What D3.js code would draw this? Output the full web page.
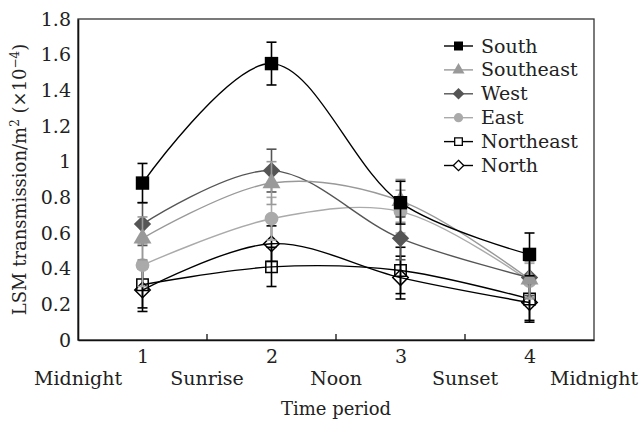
<!DOCTYPE html>
<html>
<head>
<meta charset="utf-8">
<script src="https://cdn.jsdelivr.net/npm/d3@7"></script>
<style>
  body { margin: 0; background: #fff; }
  svg text { font-family: "DejaVu Serif", serif; fill: #222; }
</style>
</head>
<body>
<div id="chart"></div>
<script>
// periods on the x axis
const periods = [1, 2, 3, 4];
const periodLabels = ["Midnight", "Sunrise", "Noon", "Sunset", "Midnight"];
const labelPositions = [0.5, 1.5, 2.5, 3.5, 4.5];
const yTicks = [0, 0.2, 0.4, 0.6, 0.8, 1, 1.2, 1.4, 1.6, 1.8];

// series values (x10^-4) and their error bars
const south = [0.88, 1.55, 0.77, 0.48];
const southErr = [0.11, 0.12, 0.12, 0.12];
const southeast = [0.57, 0.88, 0.78, 0.34];
const southeastErr = [0.12, 0.12, 0.12, 0.1];
const west = [0.65, 0.95, 0.57, 0.35];
const westErr = [0.12, 0.12, 0.12, 0.1];
const east = [0.42, 0.68, 0.72, 0.33];
const eastErr = [0.12, 0.12, 0.12, 0.1];
const northeast = [0.31, 0.41, 0.39, 0.23];
const northeastErr = [0.13, 0.11, 0.13, 0.12];
const north = [0.28, 0.54, 0.35, 0.21];
const northErr = [0.12, 0.1, 0.12, 0.11];

const series = [
  {name: "South", values: south, err: southErr, color: "#000", symbol: "square", fill: true},
  {name: "Southeast", values: southeast, err: southeastErr, color: "#999", symbol: "triangle", fill: true},
  {name: "West", values: west, err: westErr, color: "#555", symbol: "diamond", fill: true},
  {name: "East", values: east, err: eastErr, color: "#aaa", symbol: "circle", fill: true},
  {name: "Northeast", values: northeast, err: northeastErr, color: "#000", symbol: "square", fill: false},
  {name: "North", values: north, err: northErr, color: "#000", symbol: "diamond", fill: false}
];

const width = 640, height = 421;
const margin = {top: 19, right: 46, bottom: 81, left: 78};

const svg = d3.select("#chart").append("svg")
  .attr("width", width)
  .attr("height", height);

const x = d3.scaleLinear().domain([0.5, 4.5]).range([margin.left, width - margin.right]);
const y = d3.scaleLinear().domain([0, 1.8]).range([height - margin.bottom, margin.top]);

// frame
svg.append("rect")
  .attr("x", x(0.5)).attr("y", y(1.8))
  .attr("width", x(4.5) - x(0.5)).attr("height", y(0) - y(1.8))
  .attr("fill", "none").attr("stroke", "#333").attr("stroke-width", 1.3);

// y axis labels
svg.append("g")
  .attr("transform", "translate(" + x(0.5) + ",0)")
  .call(d3.axisLeft(y).tickValues(yTicks).tickSize(0).tickPadding(7).tickFormat(d3.format("~g")))
  .call(g => g.select(".domain").attr("stroke", "#111").attr("stroke-width", 1.6))
  .call(g => g.selectAll("text").attr("font-size", 19).attr("font-family", "DejaVu Serif").attr("fill", "#222"));

// x axis: numbers at periods, inner ticks between
svg.append("g")
  .attr("transform", "translate(0," + y(0) + ")")
  .call(d3.axisBottom(x).tickValues(periods).tickSize(0).tickPadding(10).tickFormat(d3.format("d")))
  .call(g => g.select(".domain").attr("stroke", "#111").attr("stroke-width", 1.6))
  .call(g => g.selectAll("text").attr("font-size", 19).attr("font-family", "DejaVu Serif").attr("fill", "#222"));

svg.append("g")
  .selectAll("line")
  .data([1.5, 2.5, 3.5])
  .join("line")
  .attr("x1", d => x(d)).attr("x2", d => x(d))
  .attr("y1", y(0)).attr("y2", y(0) - 6)
  .attr("stroke", "#111").attr("stroke-width", 1.3);

svg.append("g")
  .selectAll("text")
  .data(periodLabels)
  .join("text")
  .attr("x", (d, i) => x(labelPositions[i]))
  .attr("y", y(0) + 45)
  .attr("text-anchor", "middle")
  .attr("font-size", 19)
  .text(d => d);

svg.append("text")
  .attr("x", (x(0.5) + x(4.5)) / 2)
  .attr("y", height - 6)
  .attr("text-anchor", "middle")
  .attr("font-size", 18)
  .text("Time period");

const yt = svg.append("text")
  .attr("transform", "translate(26," + ((y(0) + y(1.8)) / 2) + ") rotate(-90)")
  .attr("text-anchor", "middle")
  .attr("font-size", 18);
yt.append("tspan").text("LSM transmission/m");
yt.append("tspan").attr("dy", -7).attr("font-size", 12).text("2");
yt.append("tspan").attr("dy", 7).text(" (×10");
yt.append("tspan").attr("dy", -7).attr("font-size", 12).text("−4");
yt.append("tspan").attr("dy", 7).text(")");

// a square turned by 45 degrees, as the reference draws its diamonds
const wideDiamond = {
  draw(context, size) {
    const r = Math.sqrt(size) / Math.SQRT2 * 1.0;
    context.moveTo(0, -r);
    context.lineTo(r, 0);
    context.lineTo(0, r);
    context.lineTo(-r, 0);
    context.closePath();
  }
};

const symbolType = {square: d3.symbolSquare, triangle: d3.symbolTriangle, diamond: wideDiamond, circle: d3.symbolCircle};
const symbolSize = s => s.fill ? {square: 180, triangle: 140, diamond: 150, circle: 150}[s.symbol]
                                : {square: 130, diamond: 120}[s.symbol];

function drawSymbol(g, s, px, py, scale) {
  g.append("path")
    .attr("transform", "translate(" + px + "," + py + ")")
    .attr("d", d3.symbol().type(symbolType[s.symbol]).size(symbolSize(s) * scale)())
    .attr("fill", s.fill ? s.color : "none")
    .attr("stroke", s.color)
    .attr("stroke-width", s.fill ? 0 : 1.5);
}

const line = d3.line()
  .x((d, i) => x(periods[i]))
  .y(d => y(d))
  .curve(d3.curveCatmullRom.alpha(0.5));

// draw from the last legend entry up to the first
series.slice().reverse().forEach(s => {
  const g = svg.append("g");
  g.append("path")
    .attr("d", line(s.values))
    .attr("fill", "none")
    .attr("stroke", s.color)
    .attr("stroke-width", 1.4);
  s.values.forEach((v, i) => {
    const px = x(periods[i]);
    g.append("line")
      .attr("x1", px).attr("x2", px)
      .attr("y1", y(v - s.err[i])).attr("y2", y(v + s.err[i]))
      .attr("stroke", s.color).attr("stroke-width", 1.6);
    [v - s.err[i], v + s.err[i]].forEach(e => {
      g.append("line")
        .attr("x1", px - 5).attr("x2", px + 5)
        .attr("y1", y(e)).attr("y2", y(e))
        .attr("stroke", s.color).attr("stroke-width", 1.6);
    });
  });
  s.values.forEach((v, i) => drawSymbol(g, s, x(periods[i]), y(v), 1));
});

// legend
const legend = svg.append("g");
series.forEach((s, i) => {
  const ly = 46 + i * 23.9;
  legend.append("line")
    .attr("x1", 444).attr("x2", 473)
    .attr("y1", ly).attr("y2", ly)
    .attr("stroke", s.color).attr("stroke-width", 1.4);
  const g = legend.append("g");
  g.append("path")
    .attr("transform", "translate(458.5," + ly + ")")
    .attr("d", d3.symbol().type(symbolType[s.symbol]).size(symbolSize(s) * 0.45)())
    .attr("fill", s.fill ? s.color : "#fff")
    .attr("stroke", s.color)
    .attr("stroke-width", s.fill ? 0 : 1.3);
  legend.append("text")
    .attr("x", 481).attr("y", ly + 6.5)
    .attr("font-size", 19)
    .text(s.name);
});
</script>
</body>
</html>
